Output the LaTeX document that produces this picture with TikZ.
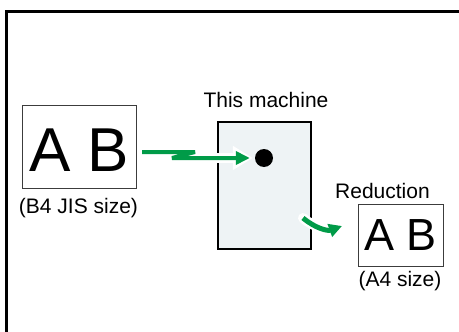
\documentclass[tikz,border=0pt]{standalone}
\usepackage{fontspec}
\setmainfont{Liberation Sans}
\usetikzlibrary{arrows.meta}
\definecolor{copygreen}{RGB}{0,155,72}
\definecolor{machfill}{RGB}{238,243,245}
\definecolor{boxline}{RGB}{60,60,60}

\begin{document}
\begin{tikzpicture}[x=1pt,y=-1pt]
\tikzset{sizebox/.style = {draw=boxline, line width=1pt, inner sep=0pt}}
\tikzset{lbl/.style = {inner sep=0pt, font=\fontsize{21}{25}\selectfont}}
\tikzset{gline/.style = {draw=copygreen, line width=4pt}}
\tikzset{halo/.style = {draw=white, line width=10pt}}
\useasboundingbox (0,0) rectangle (459,332);
\clip (0,0) rectangle (459,332);
\draw[line width=3pt] (6,11) rectangle (480,350);

    \node[sizebox, minimum width=114pt, minimum height=83pt, text height=50pt, text depth=0pt, font=\fontsize{62}{62}\selectfont] (orig) at (79,146.5) {A B};
    \node[lbl] (origlbl) at (78.5,208) {(B4 JIS size)};

    \node[draw, line width=2pt, fill=machfill, minimum width=93pt, minimum height=127pt] (mach) at (264.5,185.5) {};
    \node[lbl] (machlbl) at (266,100) {This machine};
    \node[circle, fill=black, inner sep=0pt, minimum size=18pt] (dot) at (264,158) {};

    \node[sizebox, minimum width=85pt, minimum height=62pt, font=\fontsize{45}{45}\selectfont] (reduced) at (400.5,235) {A B};
    \node[lbl] (redlbl) at (382.5,191) {Reduction};
    \node[lbl] (reducedlbl) at (400,281) {(A4 size)};

\coordinate (zstart) at (142,152);
\draw[halo, -{Triangle[length=20pt,width=23pt]}] ([xshift=-45pt]dot.west) -- ([xshift=-2pt]dot.west);
\draw[gline, line join=bevel, -{Triangle[length=14pt,width=13pt]}] (zstart) -- ++(53,0) -- ++(-23,6) -- ([xshift=-5pt]dot.west);

\coordinate (outstart) at (303,218);
\coordinate (outtip) at (342,226);
\draw[halo, line cap=round] (outstart) to[out=-40,in=200] (outtip);
\draw[gline, line width=5pt, -{Triangle[length=13pt,width=13pt]}] (outstart) to[out=-40,in=200] (outtip);

\end{tikzpicture}
\end{document}
